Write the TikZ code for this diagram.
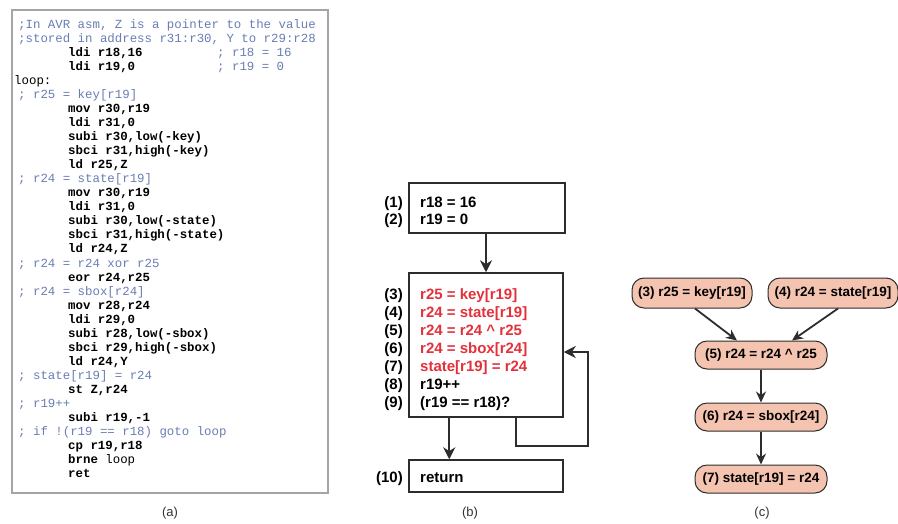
\documentclass[tikz,border=0pt]{standalone}
\usepackage{fontspec}
\newfontfamily\sansf{Liberation Sans}
\newfontfamily\monof{Liberation Mono}
\usetikzlibrary{arrows.meta,calc}
\definecolor{cmt}{RGB}{105,125,180}
\definecolor{redt}{RGB}{228,48,58}
\definecolor{pill}{RGB}{245,196,176}
\definecolor{edge}{RGB}{45,45,45}
\definecolor{framec}{RGB}{165,165,165}
\begin{document}
\begin{tikzpicture}[x=1pt,y=-1pt,
  acmt/.style={anchor=base west,inner sep=0,font=\monof\fontsize{12.4}{14}\selectfont,text=cmt},
  acode/.style={anchor=base west,inner sep=0,font=\monof\bfseries\fontsize{12.4}{14}\selectfont,text=black},
  aplain/.style={anchor=base west,inner sep=0,font=\monof\fontsize{12.4}{14}\selectfont,text=black},
  bbox/.style={draw=edge,line width=1.5pt,inner sep=0},
  btxt/.style={anchor=base west,inner sep=0,font=\sansf\bfseries\fontsize{15}{15}\selectfont},
  blab/.style={anchor=base east,inner sep=0,font=\sansf\bfseries\fontsize{15}{15}\selectfont},
  arr/.style={draw=edge,line width=2.4pt,-{Stealth[length=12pt,width=12pt]}},
  arrc/.style={draw=edge,line width=1.8pt,-{Stealth[length=11pt,width=10pt]}},
  pillst/.style={draw=edge,fill=pill,line width=1pt,rounded corners=12pt,minimum height=30pt,inner xsep=5pt,font=\sansf\bfseries\fontsize{13.5}{14}\selectfont},
  plab/.style={inner sep=0,font=\sansf\fontsize{13}{13}\selectfont,text=black!80}]
\useasboundingbox (0,0) rectangle (898,523);
% ---------- panel (a)
\node[draw=framec,line width=1.2pt,minimum width=316pt,minimum height=483pt,inner sep=0] (fa) at (170,251.5) {};
\node[acmt] (l1) at (18,28) {;In AVR asm, Z is a pointer to the value};
\node[acmt] (l2) at (18,42.1) {;stored in address r31:r30, Y to r29:r28};
\node[acode] (l3) at (68,56.1) {ldi r18,16};
\node[acmt] (l3c) at (217,56.1) {; r18 = 16};
\node[acode] (l4) at (68,70.2) {ldi r19,0};
\node[acmt] (l4c) at (217,70.2) {; r19 = 0};
\node[aplain] (l5) at (14,84.2) {loop:};
\node[acmt] (l6) at (18,98.3) {; r25 = key[r19]};
\node[acode] (l7) at (68,112.4) {mov r30,r19};
\node[acode] (l8) at (68,126.4) {ldi r31,0};
\node[acode] (l9) at (68,140.5) {subi r30,low(-key)};
\node[acode] (l10) at (68,154.5) {sbci r31,high(-key)};
\node[acode] (l11) at (68,168.6) {ld r25,Z};
\node[acmt] (l12) at (18,182.7) {; r24 = state[r19]};
\node[acode] (l13) at (68,196.7) {mov r30,r19};
\node[acode] (l14) at (68,210.8) {ldi r31,0};
\node[acode] (l15) at (68,224.8) {subi r30,low(-state)};
\node[acode] (l16) at (68,238.9) {sbci r31,high(-state)};
\node[acode] (l17) at (68,252.9) {ld r24,Z};
\node[acmt] (l18) at (18,267) {; r24 = r24 xor r25};
\node[acode] (l19) at (68,281) {eor r24,r25};
\node[acmt] (l20) at (18,295.1) {; r24 = sbox[r24]};
\node[acode] (l21) at (68,309.2) {mov r28,r24};
\node[acode] (l22) at (68,323.2) {ldi r29,0};
\node[acode] (l23) at (68,337.3) {subi r28,low(-sbox)};
\node[acode] (l24) at (68,351.4) {sbci r29,high(-sbox)};
\node[acode] (l25) at (68,365.4) {ld r24,Y};
\node[acmt] (l26) at (18,379.5) {; state[r19] = r24};
\node[acode] (l27) at (68,393.5) {st Z,r24};
\node[acmt] (l28) at (18,407.6) {; r19++};
\node[acode] (l29) at (68,421.7) {subi r19,-1};
\node[acmt] (l30) at (18,435.7) {; if !(r19 == r18) goto loop};
\node[acode] (l31) at (68,449.8) {cp r19,r18};
\node[acode] (l32) at (68,463.8) {brne \mdseries loop};
\node[acode] (l33) at (68,477.9) {ret};
\node[plab] (la) at (170,513) {(a)};
% ---------- panel (b)
\node[bbox,minimum width=156pt,minimum height=50pt] (b1) at (487,208) {};
\node[bbox,minimum width=154pt,minimum height=144pt] (b2) at (486,345) {};
\node[bbox,minimum width=154pt,minimum height=32pt] (b3) at (486,476) {};
\node[blab] (n1) at (403,207.5) {(1)};
\node[btxt] (t1) at (420,207.5) {r18 = 16};
\node[blab] (n2) at (403,224.5) {(2)};
\node[btxt] (t2) at (420,224.5) {r19 = 0};
\node[blab] (n3) at (403,299.5) {(3)};
\node[btxt,text=redt] (t3) at (420,299.5) {r25 = key[r19]};
\node[blab] (n4) at (403,317.5) {(4)};
\node[btxt,text=redt] (t4) at (420,317.5) {r24 = state[r19]};
\node[blab] (n5) at (403,335.5) {(5)};
\node[btxt,text=redt] (t5) at (420,335.5) {r24 = r24 \^{} r25};
\node[blab] (n6) at (403,353.5) {(6)};
\node[btxt,text=redt] (t6) at (420,353.5) {r24 = sbox[r24]};
\node[blab] (n7) at (403,371.5) {(7)};
\node[btxt,text=redt] (t7) at (420,371.5) {state[r19] = r24};
\node[blab] (n8) at (403,389.5) {(8)};
\node[btxt] (t8) at (420,389.5) {r19++};
\node[blab] (n9) at (403,407.5) {(9)};
\node[btxt] (t9) at (420,407.5) {(r19 == r18)?};
\node[blab] (n10) at (403,482.5) {(10)};
\node[btxt] (t10) at (420,482.5) {return};
\draw[arr] (b1.south -| b2.north) -- (b2.north);
\draw[arr] ($(b2.south west)+(41,0)$) -- ($(b3.north west)+(41,0)$);
\draw[arr] ($(b2.south west)+(108,0)$) |- ($(b2.east)+(24,101)$) |- ($(b2.east)+(0,7)$);
\node[plab] (lb) at (470,513) {(b)};
% ---------- panel (c)
\node[pillst,minimum width=120pt] (c3) at (692,293) {(3) r25 = key[r19]};
\node[pillst,minimum width=130pt] (c4) at (833,293) {(4) r24 = state[r19]};
\node[pillst,minimum width=132pt,minimum height=28pt] (c5) at (761,355) {(5) r24 = r24 \^{} r25};
\node[pillst,minimum width=132pt,minimum height=28pt] (c6) at (761,417) {(6) r24 = sbox[r24]};
\node[pillst,minimum width=132pt,minimum height=28pt] (c7) at (761,479) {(7) state[r19] = r24};
\draw[arrc] ($(c3.south)+(3,0)$) -- ($(c5.north)+(-24,0)$);
\draw[arrc] ($(c4.south)+(5,0)$) -- ($(c5.north)+(31,0)$);
\draw[arrc] (c5) -- (c6);
\draw[arrc] (c6) -- (c7);
\node[plab] (lc) at (762,513) {(c)};
\end{tikzpicture}
\end{document}
